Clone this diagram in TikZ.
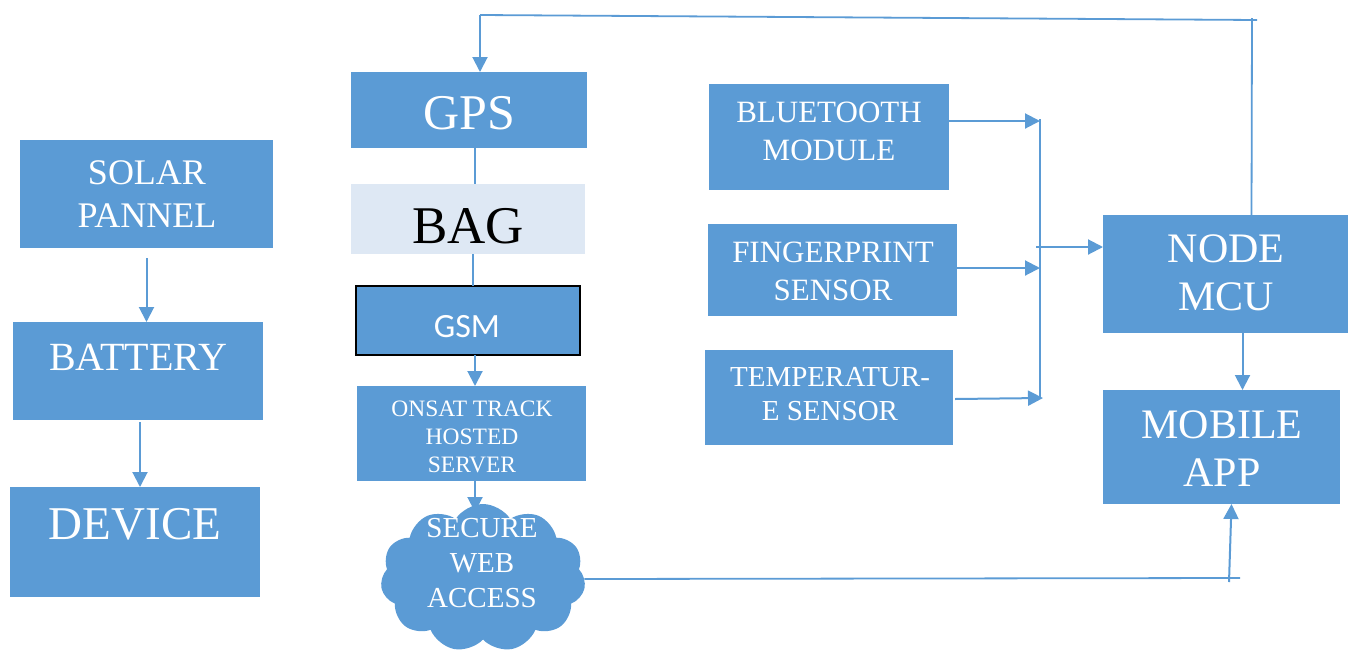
\documentclass[tikz,border=0pt]{standalone}
\usepackage{fontspec}
\setmainfont{Liberation Serif}
\newfontfamily\calib{Carlito}
\usetikzlibrary{arrows.meta,shapes.symbols}
\definecolor{ob}{HTML}{5B9BD5}
\definecolor{lb}{HTML}{DEE8F4}
\begin{document}
\begin{tikzpicture}[x=1pt,y=-1pt,
 box/.style={fill=ob, draw=none, inner sep=0, outer sep=0, anchor=north west},
 wt/.style={text=white, align=center, inner sep=0},
 arr/.style={draw=ob, line width=2pt, -{Triangle[length=15pt,width=15pt]}},
 ln/.style={draw=ob, line width=1.8pt}]
\useasboundingbox (0,0) rectangle (1351,651);
% left column
\node[box, minimum width=253pt, minimum height=108pt] (solar) at (20,140) {};
\node[wt, font=\fontsize{36}{43}\selectfont] (solart) at (147,194) {SOLAR\\PANNEL};
\node[box, minimum width=250pt, minimum height=98pt] (bat) at (13,322) {};
\node[wt, font=\fontsize{40}{48}\selectfont] (batt) at (138,357) {BATTERY};
\node[box, minimum width=250pt, minimum height=110pt] (dev) at (10,487) {};
\node[wt, font=\fontsize{47}{56}\selectfont] (devt) at (135,524) {DEVICE};
\draw[arr] ([yshift=-10pt]solar.south) -- (solar.south |- bat.north);
\draw[arr] ([xshift=2pt,yshift=-2pt]bat.south) -- ([xshift=2pt]bat.south |- dev.north);
% middle column
\node[box, minimum width=236pt, minimum height=76pt] (gps) at (351,72) {};
\node[wt, font=\fontsize{50}{60}\selectfont] (gpst) at (469,113) {GPS};
\node[box, fill=lb, minimum width=234pt, minimum height=70pt] (bag) at (351,184) {};
\node[align=center, inner sep=0, font=\fontsize{53}{63}\selectfont] (bagt) at (468,226) {BAG};
\node[box, draw=black, line width=2pt, minimum width=224pt, minimum height=69pt] (gsm) at (356,286) {};
\node[wt, font=\calib\fontsize{34}{40}\selectfont] (gsmt) at (467,327) {GSM};
\node[box, minimum width=229pt, minimum height=95pt] (srv) at (357,386) {};
\begin{scope}
\clip (357,386) rectangle (586,473);
\node[wt, font=\fontsize{23.5}{28}\selectfont] (srvt) at (472,437) {ONSAT TRACK\\HOSTED\\SERVER};
\end{scope}
\node[cloud, cloud puffs=11, cloud puff arc=115, aspect=1.4, fill=ob, draw=none, inner sep=0,
  minimum width=205pt, minimum height=148pt] (cloud) at (483,578) {};
\node[wt, font=\fontsize{29}{35}\selectfont] (cloudt) at (482,563) {SECURE\\WEB\\ACCESS};
\draw[ln] ([xshift=6pt]gps.south) -- ([xshift=6pt]gps.south |- bag.north);
\draw[ln] ([xshift=5pt]bag.south) -- ([xshift=5pt]bag.south |- gsm.north);
\draw[arr] ([xshift=7pt]gsm.south) -- ([xshift=7pt]gsm.south |- srv.north);
\coordinate (ctop) at (475,512);
\draw[arr] ([xshift=3.5pt]srv.south) -- (ctop);
% sensors
\node[box, minimum width=240pt, minimum height=106pt] (bt) at (709,84) {};
\node[wt, font=\fontsize{31}{38}\selectfont] (btt) at (829,131) {BLUETOOTH\\MODULE};
\node[box, minimum width=249pt, minimum height=92pt] (fp) at (708,224) {};
\node[wt, font=\fontsize{31}{38}\selectfont] (fpt) at (833,271) {FINGERPRINT\\SENSOR};
\node[box, minimum width=248pt, minimum height=95pt] (tmp) at (705,350) {};
\node[wt, font=\fontsize{29}{34}\selectfont] (tmpt) at (830,394) {TEMPERATUR-\\E SENSOR};
\node[box, minimum width=245pt, minimum height=118pt] (mcu) at (1103,215) {};
\node[wt, font=\fontsize{42}{48}\selectfont] (mcut) at (1226,273) {NODE\\MCU};
\node[box, minimum width=237pt, minimum height=114pt] (mob) at (1103,390) {};
\node[wt, font=\fontsize{42}{48}\selectfont] (mobt) at (1222,449) {MOBILE\\APP};
\coordinate (b1) at (1040,121);
\coordinate (b2) at (1040,268);
\coordinate (b3) at (1043,398);
\coordinate (bm) at (1036,247);
\draw[arr] (bt.east |- b1) -- (b1);
\draw[arr] (fp.east |- b2) -- (b2);
\draw[arr] ([xshift=2pt]tmp.east |- 0,399) -- (b3);
\draw[draw=ob, line width=1.5pt] (1040,119) -- (1040,398);
\draw[arr] (bm) -- (mcu.west |- bm);
\draw[arr] ([xshift=17pt]mcu.south) -- ([xshift=17pt]mcu.south |- mob.north);
% feedback lines
\coordinate (t1) at (1252,20);
\coordinate (t2) at (480,15);
\draw[ln] ([xshift=26pt]mcu.north) -- (1252,18);
\draw[ln] (1257,20) -- (t2);
\draw[arr] (t2) -- (t2 |- gps.north);
\coordinate (c1) at (1240,578);
\coordinate (c2) at (1229,582);
\draw[ln] (cloud.east |- 0,579) -- (c1);
\draw[arr] (c2) -- ([xshift=10pt]mob.south);
\end{tikzpicture}
\end{document}
